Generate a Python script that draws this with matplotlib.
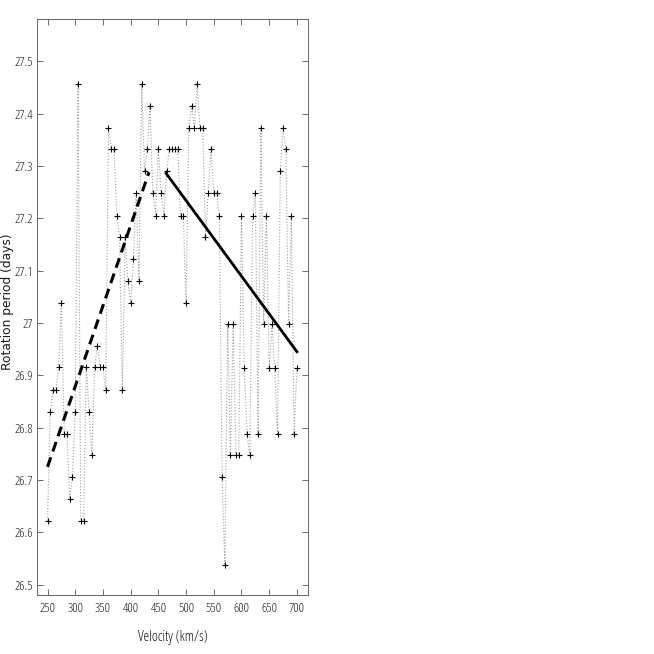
import matplotlib
matplotlib.use("Agg")
import matplotlib.pyplot as plt

velocity = [250, 255, 260, 265, 270, 275, 280, 285, 290, 295,
            300, 305, 310, 315, 320, 325, 330, 335, 340, 345,
            350, 355, 360, 365, 370, 375, 380, 385, 390, 395,
            400, 405, 410, 415, 420, 425, 430, 435, 440, 445,
            450, 455, 460, 465, 470, 475, 480, 485, 490, 495,
            500, 505, 510, 515, 520, 525, 530, 535, 540, 545,
            550, 555, 560, 565, 570, 575, 580, 585, 590, 595,
            600, 605, 610, 615, 620, 625, 630, 635, 640, 645,
            650, 655, 660, 665, 670, 675, 680, 685, 690, 695, 700]
period = [26.622, 26.830, 26.872, 26.872, 26.915, 27.039, 26.788, 26.788, 26.664, 26.705,
          26.830, 27.456, 26.622, 26.622, 26.915, 26.830, 26.747, 26.915, 26.956, 26.915,
          26.915, 26.872, 27.373, 27.332, 27.332, 27.205, 27.164, 26.872, 27.164, 27.080,
          27.039, 27.122, 27.249, 27.080, 27.456, 27.290, 27.332, 27.415, 27.249, 27.205,
          27.332, 27.249, 27.205, 27.290, 27.332, 27.332, 27.332, 27.332, 27.205, 27.205,
          27.039, 27.373, 27.415, 27.373, 27.456, 27.373, 27.373, 27.164, 27.249, 27.332,
          27.249, 27.249, 27.205, 26.705, 26.537, 26.998, 26.747, 26.998, 26.747, 26.747,
          27.205, 26.913, 26.788, 26.747, 27.205, 27.249, 26.788, 27.373, 26.998, 27.205,
          26.913, 26.998, 26.913, 26.788, 27.290, 27.373, 27.332, 26.998, 27.205, 26.788, 26.913]

fit_slow_v = [250, 433]
fit_slow_p = [26.725, 27.288]
fit_fast_v = [464, 700]
fit_fast_p = [27.286, 26.945]

xticks = [250, 300, 350, 400, 450, 500, 550, 600, 650, 700]
yticks = [26.5, 26.6, 26.7, 26.8, 26.9, 27.0, 27.1, 27.2, 27.3, 27.4, 27.5]
ytick_labels = ["26.5", "26.6", "26.7", "26.8", "26.9", "27", "27.1", "27.2", "27.3", "27.4", "27.5"]

narrow_font = dict(family="Open Sans", stretch="condensed", fontsize=9.5, color="#1a1a1a")

fig = plt.figure(figsize=(6.54, 6.54), dpi=100)
ax = fig.add_axes([37/654, 59/654, 271/654, 576/654])

ax.plot(velocity, period, linestyle=":", color="#a0a0a0", linewidth=0.8, zorder=1)
ax.plot(velocity, period, linestyle="none", marker="+", color="black",
        markersize=5, markeredgewidth=0.8, zorder=2)
ax.plot(fit_slow_v, fit_slow_p, linestyle=(0, (3.3, 2)), color="black", linewidth=2.2, zorder=3)
ax.plot(fit_fast_v, fit_fast_p, linestyle="-", color="black", linewidth=2.0, zorder=3)

ax.set_xlim(231, 720)
ax.set_ylim(26.48, 27.581)
ax.set_xticks(xticks)
ax.set_xticklabels([str(t) for t in xticks], **narrow_font)
ax.set_yticks(yticks)
ax.set_yticklabels(ytick_labels, **narrow_font)
ax.tick_params(axis="y", pad=3)
ax.tick_params(axis="x", pad=5)
ax.tick_params(direction="in", top=True, right=True, length=4, width=0.6, color="#555555")
for s in ax.spines.values():
    s.set_linewidth(0.7)
    s.set_color("#666666")

ax.set_xlabel("Velocity (km/s)", family="Open Sans", stretch="condensed", fontsize=10.5,
              color="#1a1a1a")
ax.xaxis.set_label_coords(0.5, -0.06)
ax.set_ylabel("Rotation period (days)", family="DejaVu Sans", fontsize=8.8, color="#1a1a1a")
ax.yaxis.set_label_coords(-0.084, 0.51)

fig.savefig("out.png", dpi=100, facecolor="white")
